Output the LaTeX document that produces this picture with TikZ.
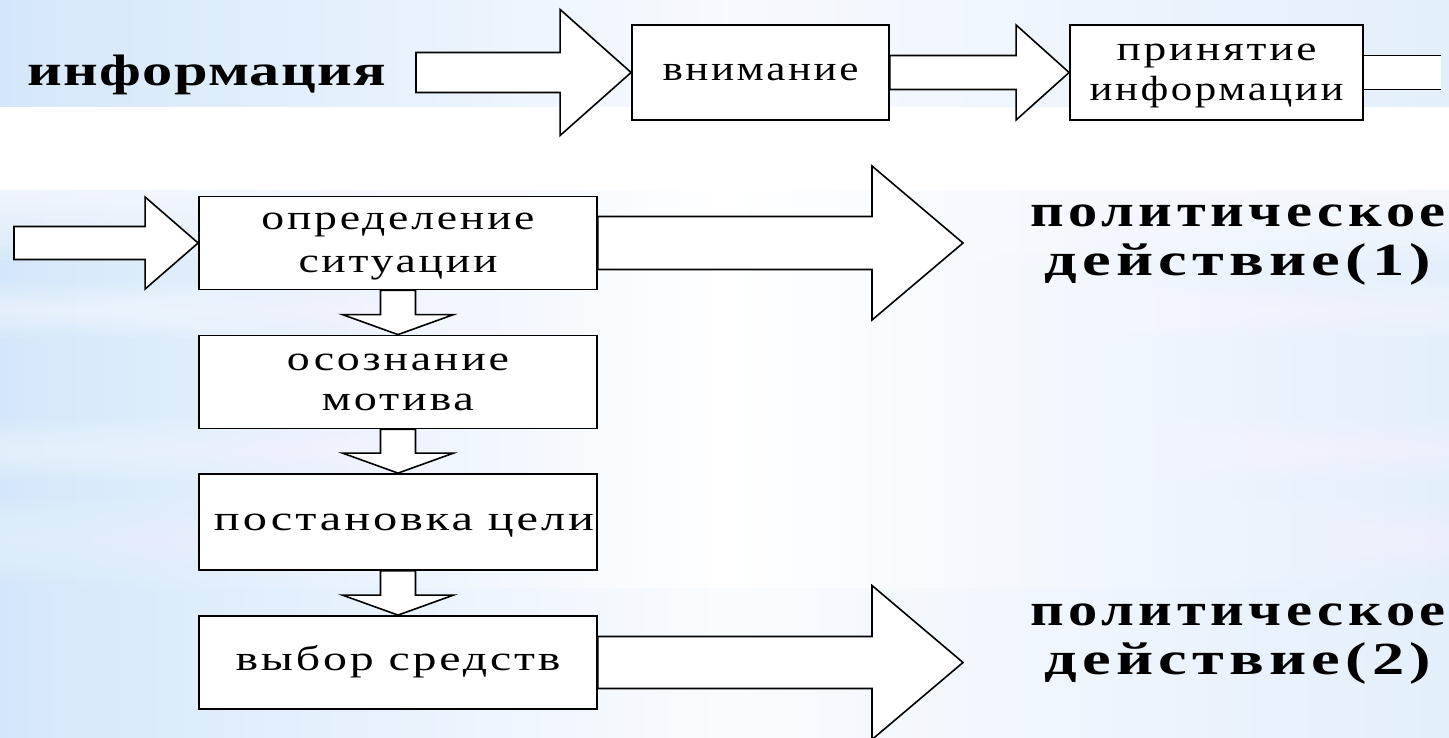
\documentclass[tikz,border=0pt]{standalone}
\usepackage{fontspec}
\usepackage{graphicx}
\usetikzlibrary{calc}
\newfontfamily\boxfont[LetterSpace=6]{Liberation Serif}
\newfontfamily\bigfont[LetterSpace=8]{Liberation Serif}
\newfontfamily\infofont[LetterSpace=2]{Liberation Serif}
\definecolor{bgA}{HTML}{D4E7FA}
\definecolor{bgB}{HTML}{E3EFFB}
\pgfdeclarelayer{back}
\pgfdeclarelayer{arrows}
\pgfsetlayers{back,arrows,main}
% fixed-width text
\newcommand\fw[2]{\resizebox{#1pt}{\height}{#2}}
% struts: box labels (x-height 15) and big labels (x-height 20)
\newcommand\tst{\rule{0pt}{26pt}}
\newcommand\bst{\rule[-10pt]{0pt}{10pt}}
\newcommand\Tst{\rule{0pt}{31pt}}
\newcommand\Bst{\rule[-10pt]{0pt}{10pt}}
\newcommand\harrow[5]{%
  \draw[blk] ($(#1)+(0,#3)$) -- ($(#2)+(-#5,#3)$) -- ($(#2)+(-#5,#4)$) -- (#2)
    -- ($(#2)+(-#5,-#4)$) -- ($(#2)+(-#5,-#3)$) -- ($(#1)+(0,-#3)$) -- cycle;}
\newcommand\varrow[5]{%
  \draw[blk] ($(#1)+(-#3,0)$) -- ($(#2)+(-#3,-#5)$) -- ($(#2)+(-#4,-#5)$) -- (#2)
    -- ($(#2)+(#4,-#5)$) -- ($(#2)+(#3,-#5)$) -- ($(#1)+(#3,0)$) -- cycle;}
% soft white streak: centre y, half height, peak opacity
\newcommand\streak[3]{%
  \foreach \k in {1,...,8}{%
    \fill[white, opacity=#3/8] (0,{#1-#2*\k/8}) rectangle (1449,{#1+#2*\k/8});}}
\tikzset{
  box/.style={draw=black, line width=1.8pt, fill=white, inner sep=0pt,
    minimum width=398pt, minimum height=93pt, align=center,
    font=\fontsize{35}{43}\selectfont\boxfont},
  blk/.style={draw=black, line width=1.6pt, fill=white, line join=miter},
  bigtext/.style={align=center, inner sep=0pt,
    font=\fontsize{46}{49}\selectfont\bigfont\bfseries}
}
\begin{document}
\begin{tikzpicture}[x=1pt,y=-1pt]
\useasboundingbox (0,0) rectangle (1449,737);
% ---------- background ----------
\begin{pgfonlayer}{back}
\fill[white] (0,0) rectangle (1449,737);
\shade[left color=bgA, right color=bgB, middle color=white!70!bgB] (0,0) rectangle (1449,107);
\shade[left color=bgA, right color=bgB, middle color=white] (0,107) rectangle (1449,588);
\fill[white] (0,107) rectangle (1449,190);
\foreach \k in {1,...,10}{\fill[white, opacity=0.1] (0,190) rectangle (1449,{190+7*\k});}
\streak{310}{28}{0.6}
\streak{450}{30}{0.5}
\streak{540}{40}{0.4}
\shade[left color=bgA, right color=bgB, middle color=white!80!bgB] (0,588) rectangle (1449,737);
\end{pgfonlayer}
% ---------- nodes ----------
\node[anchor=base, inner sep=0pt] (info) at (207,85)
  {\fw{358}{\fontsize{44}{44}\selectfont\infofont\bfseries информация}};
\node[box, minimum width=257pt, minimum height=95pt] (vnim) at (760.5,72.5)
  {\tst\fw{196}{внимание}\bst};
\node[box, minimum width=293pt, minimum height=95pt, font=\fontsize{35}{40}\selectfont\boxfont] (prin) at (1216.5,72.5)
  {\tst\fw{200}{принятие}\\\fw{254}{информации}\bst};
\node[box] (opr) at (398,243) {\tst\fw{273}{определение}\\\fw{199}{ситуации}\bst};
\node[box, font=\fontsize{35}{40}\selectfont\boxfont] (osoz) at (398,382)
  {\tst\fw{222}{осознание}\\\fw{152}{мотива}\bst};
\node[box, minimum height=96pt] (post) at (398,522) {\hspace*{12pt}\tst\fw{380}{постановка цели}\bst};
\node[box] (vyb) at (398,662.5) {\tst\fw{325}{выбор средств}\bst};
\node[bigtext] (pol1) at (1238,240.5) {\Tst\fw{416}{политическое}\\\fw{386}{действие(1)}\Bst};
\node[bigtext] (pol2) at (1238,639) {\Tst\fw{416}{политическое}\\\fw{386}{действие(2)}\Bst};
% free ends
\coordinate (a0) at (416,72.5);
\coordinate (c1) at (1441,72.5);
\coordinate (l0) at (14,243);
\coordinate (tip1) at (963,243);
\coordinate (tip2) at (963,662.5);
% ---------- block arrows ----------
\begin{pgfonlayer}{arrows}
\harrow{a0}{vnim.west}{20}{63}{71}
\harrow{vnim.east}{prin.west}{17}{47.5}{53}
\fill[white] ($(prin.east)+(0,-17)$) rectangle ($(c1)+(0,17)$);
\draw[line width=1.6pt] ($(prin.east)+(0,-17)$) -- ($(c1)+(0,-17)$);
\draw[line width=1.6pt] ($(prin.east)+(0,17)$) -- ($(c1)+(0,17)$);
\harrow{l0}{opr.west}{16.5}{46}{53}
\harrow{opr.east}{tip1}{26.5}{77}{91}
\harrow{vyb.east}{tip2}{26}{77}{91}
\varrow{opr.south}{osoz.north}{17.5}{55.5}{20}
\varrow{osoz.south}{post.north}{17.5}{55.5}{20}
\varrow{post.south}{vyb.north}{17.5}{55.5}{20}
\end{pgfonlayer}
\end{tikzpicture}
\end{document}
